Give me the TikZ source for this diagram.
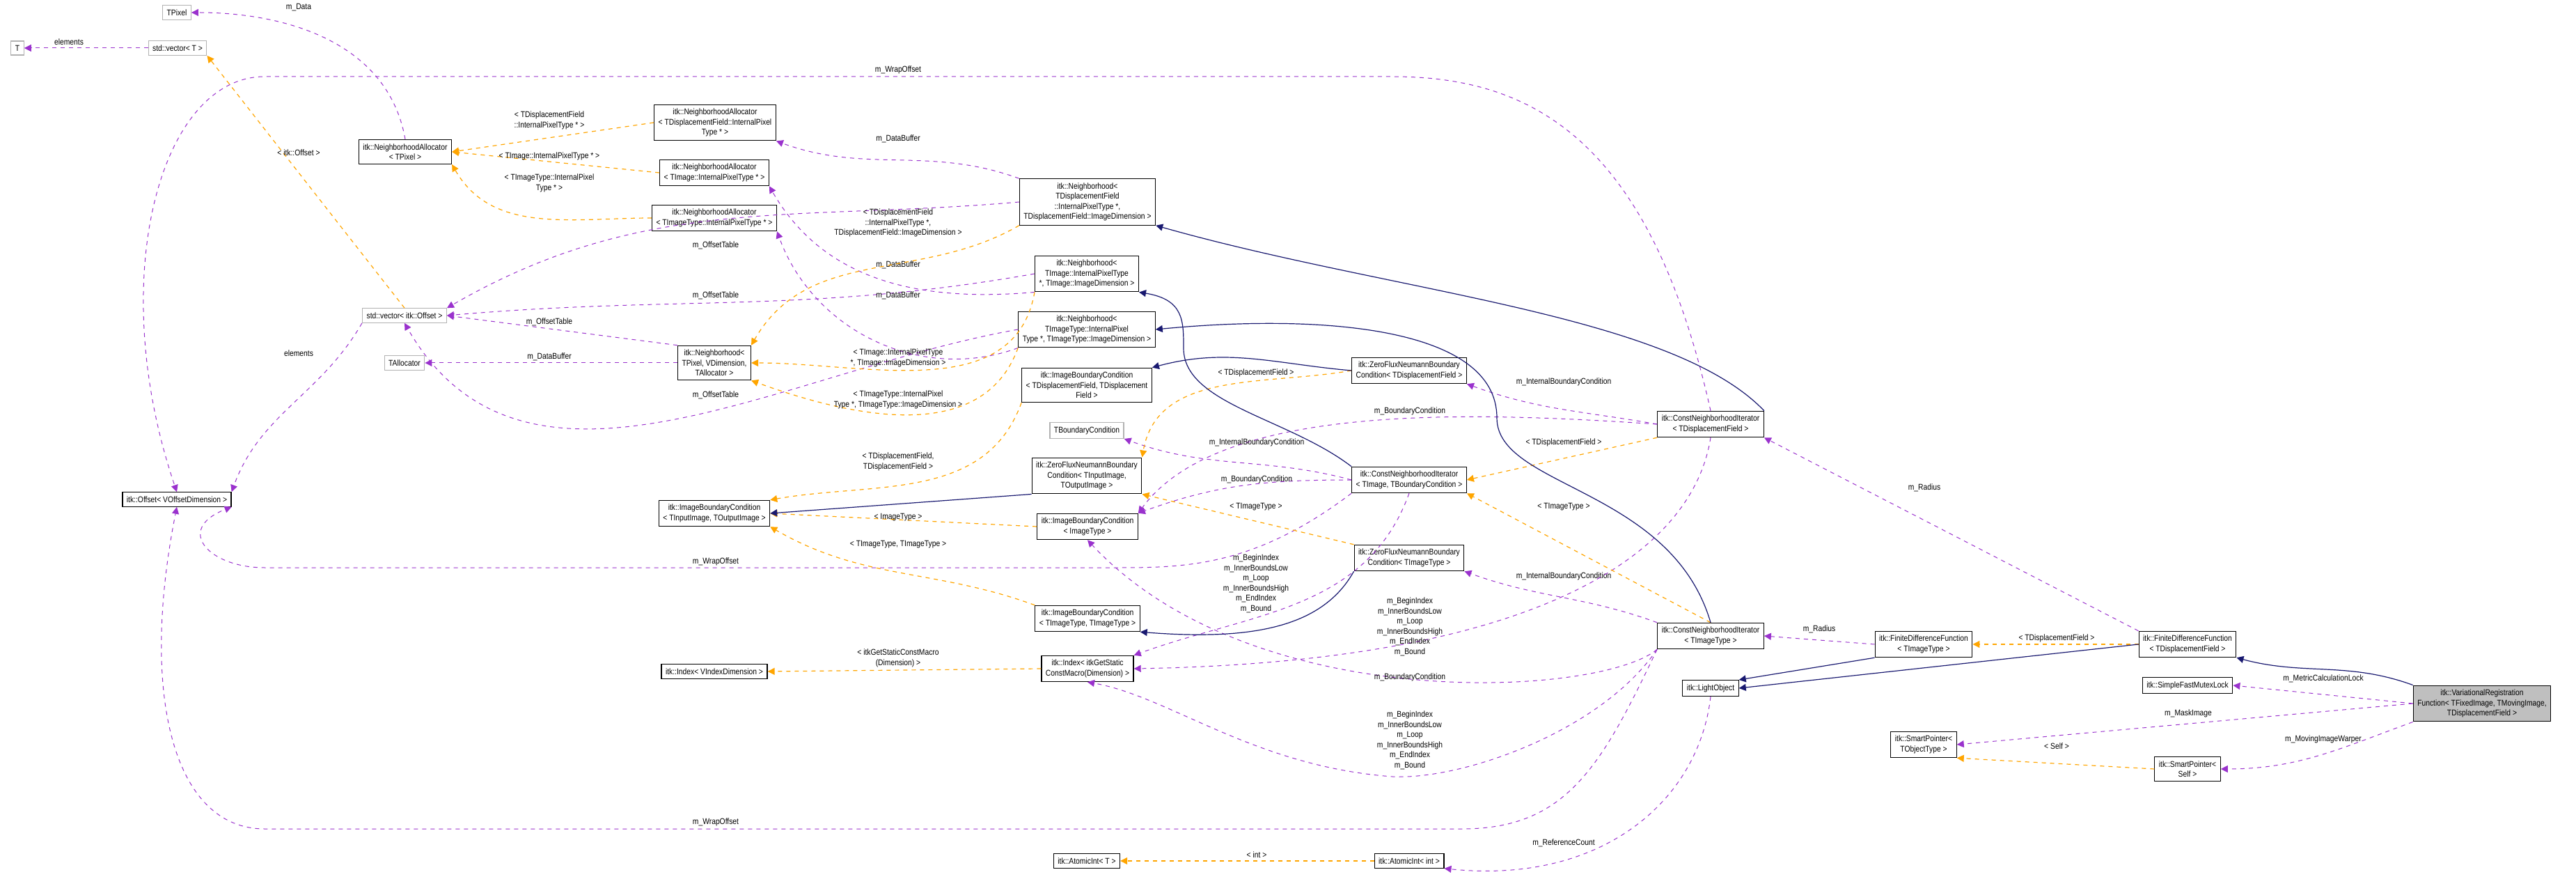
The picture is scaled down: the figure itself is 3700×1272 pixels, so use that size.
\documentclass[tikz,border=0pt]{standalone}
\usepackage{fontspec}
\setmainfont{Liberation Sans}[FakeStretch=0.86]
\usetikzlibrary{arrows.meta}
\definecolor{usecol}{HTML}{9A32CD}
\definecolor{tplcol}{HTML}{FFA500}
\definecolor{inhcol}{HTML}{191970}
\tikzset{
  cls/.style={draw=black, fill=white, line width=0.6pt, inner xsep=3pt, inner ysep=2.9pt, align=center, font=\fontsize{6}{7.25}\selectfont},
  ext/.style={cls, draw=gray!60},
  cur/.style={cls, fill=gray!50},
  lbl/.style={inner sep=0.5pt, align=center, text=black, font=\fontsize{6}{7.25}\selectfont},
  use/.style={usecol, dashed, line width=0.5pt, -{Triangle[length=5pt,width=5pt]}},
  tpl/.style={tplcol, dashed, line width=0.6pt, -{Triangle[length=5pt,width=5pt]}},
  inh/.style={inhcol, line width=0.6pt, -{Triangle[length=5pt,width=5pt]}}
}
\begin{document}
\begin{tikzpicture}[x=0.5pt, y=-0.5pt]
    \useasboundingbox (0,0) rectangle (3700,1272);
    % Nodes
    \node[ext] (npix) at (254,18) {TPixel};
    \node[ext] (nt) at (25,69) {T};
    \node[ext] (nvect) at (255,69) {std::vector\textless{} T \textgreater{}};
    \node[cls] (naPix) at (582,218) {itk::NeighborhoodAllocator\\\textless{} TPixel \textgreater{}};
    \node[cls] (naDisp) at (1027,176) {itk::NeighborhoodAllocator\\\textless{} TDisplacementField::InternalPixel\\Type * \textgreater{}};
    \node[cls] (naImg) at (1026,248) {itk::NeighborhoodAllocator\\\textless{} TImage::InternalPixelType * \textgreater{}};
    \node[cls] (naImgT) at (1026,313) {itk::NeighborhoodAllocator\\\textless{} TImageType::InternalPixelType * \textgreater{}};
    \node[ext] (nvoff) at (581,453) {std::vector\textless{} itk::Offset \textgreater{}};
    \node[ext] (nalloc) at (581,521) {TAllocator};
    \node[cls] (nhPix) at (1026,521) {itk::Neighborhood\textless{}\\TPixel, VDimension,\\TAllocator \textgreater{}};
    \node[cls] (noff) at (254,717) {itk::Offset\textless{} VOffsetDimension \textgreater{}};
    \node[cls] (nhDisp) at (1562,290) {itk::Neighborhood\textless{}\\TDisplacementField\\::InternalPixelType *,\\TDisplacementField::ImageDimension \textgreater{}};
    \node[cls] (nhImg) at (1561,393) {itk::Neighborhood\textless{}\\TImage::InternalPixelType\\*, TImage::ImageDimension \textgreater{}};
    \node[cls] (nhImgT) at (1561,473) {itk::Neighborhood\textless{}\\TImageType::InternalPixel\\Type *, TImageType::ImageDimension \textgreater{}};
    \node[cls] (ibcDisp) at (1561,553) {itk::ImageBoundaryCondition\\\textless{} TDisplacementField, TDisplacement\\Field \textgreater{}};
    \node[ext] (tbc) at (1561,618) {TBoundaryCondition};
    \node[cls] (zfInOut) at (1561,683) {itk::ZeroFluxNeumannBoundary\\Condition\textless{} TInputImage,\\TOutputImage \textgreater{}};
    \node[cls] (ibcInOut) at (1026,737) {itk::ImageBoundaryCondition\\\textless{} TInputImage, TOutputImage \textgreater{}};
    \node[cls] (ibcImg) at (1562,756) {itk::ImageBoundaryCondition\\\textless{} ImageType \textgreater{}};
    \node[cls] (ibcImgT) at (1562,888) {itk::ImageBoundaryCondition\\\textless{} TImageType, TImageType \textgreater{}};
    \node[cls] (idxV) at (1026,964) {itk::Index\textless{} VIndexDimension \textgreater{}};
    \node[cls] (idxS) at (1562,960) {itk::Index\textless{} itkGetStatic\\ConstMacro(Dimension) \textgreater{}};
    \node[cls] (zfDisp) at (2024,532) {itk::ZeroFluxNeumannBoundary\\Condition\textless{} TDisplacementField \textgreater{}};
    \node[cls] (cniTBC) at (2024,689) {itk::ConstNeighborhoodIterator\\\textless{} TImage, TBoundaryCondition \textgreater{}};
    \node[cls] (zfImgT) at (2024,801) {itk::ZeroFluxNeumannBoundary\\Condition\textless{} TImageType \textgreater{}};
    \node[cls] (cniDisp) at (2457,609) {itk::ConstNeighborhoodIterator\\\textless{} TDisplacementField \textgreater{}};
    \node[cls] (cniImgT) at (2457,913) {itk::ConstNeighborhoodIterator\\\textless{} TImageType \textgreater{}};
    \node[cls] (light) at (2457,988) {itk::LightObject};
    \node[cls] (fdfImgT) at (2763,925) {itk::FiniteDifferenceFunction\\\textless{} TImageType \textgreater{}};
    \node[cls] (fdfDisp) at (3142,925) {itk::FiniteDifferenceFunction\\\textless{} TDisplacementField \textgreater{}};
    \node[cls] (mutex) at (3142,984) {itk::SimpleFastMutexLock};
    \node[cur] (varreg) at (3565,1010) {itk::VariationalRegistration\\Function\textless{} TFixedImage, TMovingImage,\\TDisplacementField \textgreater{}};
    \node[cls] (spObj) at (2763,1069) {itk::SmartPointer\textless{}\\TObjectType \textgreater{}};
    \node[cls] (spSelf) at (3142,1104) {itk::SmartPointer\textless{}\\Self \textgreater{}};
    \node[cls] (aiT) at (1561,1236) {itk::AtomicInt\textless{} T \textgreater{}};
    \node[cls] (aiInt) at (2024,1236) {itk::AtomicInt\textless{} int \textgreater{}};

    % Usage lines
    \draw[use] (naPix.north) to[out=100, in=0] (npix.east) node[lbl] at (429,11) {m\_Data};
    \draw[use] (nvect.west) -- (nt.east) node[lbl] at (99,60) {elements};
    \draw[use] (nvoff.south west) to[out=240, in=70] (noff.north east) node[lbl] at (429,507) {elements};
    \draw[use] (nhPix.north west) -- (nvoff.east) node[lbl] at (789,462) {m\_OffsetTable};
    \draw[use] (nhPix.west) -- (nalloc.east) node[lbl] at (789,512) {m\_DataBuffer};
    \draw[use] (nhDisp.west) to[out=185, in=30] (nvoff.north east) node[lbl] at (1028,352) {m\_OffsetTable};
    \draw[use] (nhDisp.north west) to[out=160, in=-20] (naDisp.south east) node[lbl] at (1290,199) {m\_DataBuffer};
    \draw[use] (nhImg.west) to[out=190, in=5] (nvoff.east) node[lbl] at (1028,424) {m\_OffsetTable};
    \draw[use] (nhImg.south west) to[out=185, in=-60] (naImg.south east) node[lbl] at (1290,380) {m\_DataBuffer};
    \draw[use] (nhImgT.west) to[out=190, in=-60] (nvoff.south) node[lbl] at (1028,567) {m\_OffsetTable};
    \draw[use] (nhImgT.south west) to[out=200, in=-70] (naImgT.south east) node[lbl] at (1290,424) {m\_DataBuffer};
    \draw[use] (cniDisp.north) .. controls (2370,200) and (2200,110) .. (2000,110) -- (380,110) .. controls (230,110) and (150,400) .. (noff.north) node[lbl] at (1290,100) {m\_WrapOffset};
    \draw[use] (cniTBC.south west) .. controls (1800,815) and (1700,815) .. (1600,815) -- (380,815) .. controls (300,815) and (250,760) .. (noff.south east) node[lbl] at (1028,806) {m\_WrapOffset};
    \draw[use] (cniImgT.south west) .. controls (2300,1100) and (2250,1190) .. (2100,1190) -- (380,1190) .. controls (250,1190) and (200,1000) .. (noff.south) node[lbl] at (1028,1180) {m\_WrapOffset};
    \draw[use] (cniDisp.west) to[out=170, in=-20] (zfDisp.south east) node[lbl] at (2246,548) {m\_InternalBoundaryCondition};
    \draw[use] (cniDisp.west) .. controls (2100,590) and (1750,580) .. (ibcImg.north east) node[lbl] at (2025,590) {m\_BoundaryCondition};
    \draw[use] (cniTBC.west) to[out=165, in=-20] (tbc.south east) node[lbl] at (1805,635) {m\_InternalBoundaryCondition};
    \draw[use] (cniTBC.west) to[out=180, in=20] (ibcImg.north east) node[lbl] at (1805,688) {m\_BoundaryCondition};
    \draw[use] (cniImgT.north west) to[out=160, in=-20] (zfImgT.south east) node[lbl] at (2246,827) {m\_InternalBoundaryCondition};
    \draw[use] (cniImgT.south west) .. controls (2300,1000) and (1800,1030) .. (ibcImg.south) node[lbl] at (2025,972) {m\_BoundaryCondition};
    \draw[use] (cniTBC.south) to[out=-110, in=20] (idxS.north east) node[lbl] at (1804,838) {m\_BeginIndex\\m\_InnerBoundsLow\\m\_Loop\\m\_InnerBoundsHigh\\m\_EndIndex\\m\_Bound};
    \draw[use] (cniDisp.south) .. controls (2430,800) and (2200,950) .. (idxS.east) node[lbl] at (2025,900) {m\_BeginIndex\\m\_InnerBoundsLow\\m\_Loop\\m\_InnerBoundsHigh\\m\_EndIndex\\m\_Bound};
    \draw[use] (cniImgT.south west) .. controls (2300,1050) and (2100,1120) .. (2000,1115) .. controls (1800,1100) and (1680,1000) .. (idxS.south) node[lbl] at (2025,1063) {m\_BeginIndex\\m\_InnerBoundsLow\\m\_Loop\\m\_InnerBoundsHigh\\m\_EndIndex\\m\_Bound};
    \draw[use] (fdfImgT.west) -- (cniImgT.east) node[lbl] at (2613,903) {m\_Radius};
    \draw[use] (fdfDisp.north west) -- (cniDisp.south east) node[lbl] at (2764,700) {m\_Radius};
    \draw[use] (light.south) .. controls (2440,1150) and (2300,1270) .. (aiInt.south east) node[lbl] at (2246,1210) {m\_ReferenceCount};
    \draw[use] (varreg.west) -- (mutex.east) node[lbl] at (3337,974) {m\_MetricCalculationLock};
    \draw[use] (varreg.west) -- (spObj.east) node[lbl] at (3143,1024) {m\_MaskImage};
    \draw[use] (varreg.south west) to[out=200, in=0] (spSelf.east) node[lbl] at (3337,1061) {m\_MovingImageWarper};

    % Template lines
    \draw[tpl] (nvoff.north) -- (nvect.south east) node[lbl] at (429,219) {\textless{} itk::Offset \textgreater{}};
    \draw[tpl] (naDisp.west) -- (naPix.east) node[lbl] at (789,173) {\textless{} TDisplacementField\\::InternalPixelType * \textgreater{}};
    \draw[tpl] (naImg.west) -- (naPix.east) node[lbl] at (789,224) {\textless{} TImage::InternalPixelType * \textgreater{}};
    \draw[tpl] (naImgT.west) to[out=180, in=-60] (naPix.south east) node[lbl] at (789,263) {\textless{} TImageType::InternalPixel\\Type * \textgreater{}};
    \draw[tpl] (nhDisp.south west) to[out=210, in=60] (nhPix.north east) node[lbl] at (1290,320) {\textless{} TDisplacementField\\::InternalPixelType *,\\TDisplacementField::ImageDimension \textgreater{}};
    \draw[tpl] (nhImg.south west) to[out=-100, in=0] (nhPix.east) node[lbl] at (1290,514) {\textless{} TImage::InternalPixelType\\*, TImage::ImageDimension \textgreater{}};
    \draw[tpl] (nhImgT.south west) to[out=-110, in=-20] (nhPix.south east) node[lbl] at (1290,574) {\textless{} TImageType::InternalPixel\\Type *, TImageType::ImageDimension \textgreater{}};
    \draw[tpl] (ibcDisp.south west) to[out=-110, in=10] (ibcInOut.north east) node[lbl] at (1290,663) {\textless{} TDisplacementField,\\TDisplacementField \textgreater{}};
    \draw[tpl] (ibcImg.west) -- (ibcInOut.east) node[lbl] at (1290,743) {\textless{} ImageType \textgreater{}};
    \draw[tpl] (ibcImgT.north west) to[out=160, in=-30] (ibcInOut.south east) node[lbl] at (1290,782) {\textless{} TImageType, TImageType \textgreater{}};
    \draw[tpl] (zfDisp.west) to[out=190, in=80] (zfInOut.north east) node[lbl] at (1804,535) {\textless{} TDisplacementField \textgreater{}};
    \draw[tpl] (zfImgT.north west) -- (zfInOut.south east) node[lbl] at (1804,728) {\textless{} TImageType \textgreater{}};
    \draw[tpl] (cniDisp.south west) -- (cniTBC.east) node[lbl] at (2246,635) {\textless{} TDisplacementField \textgreater{}};
    \draw[tpl] (cniImgT.north) -- (cniTBC.south east) node[lbl] at (2246,728) {\textless{} TImageType \textgreater{}};
    \draw[tpl] (idxS.west) -- (idxV.east) node[lbl] at (1290,945) {\textless{} itkGetStaticConstMacro\\(Dimension) \textgreater{}};
    \draw[tpl] (fdfDisp.west) -- (fdfImgT.east) node[lbl] at (2954,916) {\textless{} TDisplacementField \textgreater{}};
    \draw[tpl] (aiInt.west) -- (aiT.east) node[lbl] at (1805,1227) {\textless{} int \textgreater{}};
    \draw[tpl] (spSelf.west) -- (spObj.south east) node[lbl] at (2954,1071) {\textless{} Self \textgreater{}};

    % Inheritance lines
    \draw[inh] (cniDisp.north east) .. controls (2400,450) and (2000,420) .. (nhDisp.south east);
    \draw[inh] (cniTBC.north west) .. controls (1850,600) and (1700,580) .. (1700,500) .. controls (1700,460) and (1700,430) .. (nhImg.south east);
    \draw[inh] (cniImgT.north) .. controls (2400,700) and (2150,700) .. (2150,600) .. controls (2150,470) and (1900,450) .. (nhImgT.east);
    \draw[inh] (zfDisp.west) to[out=175, in=15] (ibcDisp.north east);
    \draw[inh] (zfInOut.south west) -- (ibcInOut.east);
    \draw[inh] (zfImgT.south west) .. controls (1900,900) and (1800,920) .. (ibcImgT.south east);
    \draw[inh] (fdfImgT.south west) -- (light.north east);
    \draw[inh] (fdfDisp.west) -- (light.east);
    \draw[inh] (varreg.north west) to[out=160, in=-15] (fdfDisp.south east);
\end{tikzpicture}
\end{document}
